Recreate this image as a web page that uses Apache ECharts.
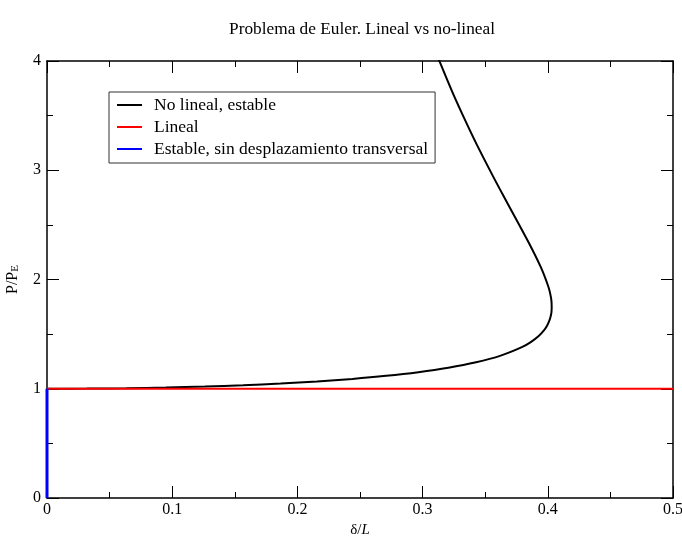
<!DOCTYPE html>
<html>
<head>
<meta charset="utf-8">
<title>Problema de Euler</title>
<script src="https://cdn.jsdelivr.net/npm/echarts@6/dist/echarts.min.js"></script>
<style>
  html, body { margin: 0; padding: 0; background: #fff; }
  #chart { width: 682px; height: 543px; }
</style>
</head>
<body>
<div id="chart"></div>
<script>
// curva no lineal (elastica): [delta/L, P/PE]
const noLineal = [
  [0, 1], [0.0318, 1.0013], [0.0635, 1.0050], [0.0950, 1.0114], [0.1260, 1.0206],
  [0.1566, 1.0327], [0.1866, 1.0480], [0.2157, 1.0670], [0.2439, 1.0901],
  [0.2709, 1.1180], [0.2966, 1.1518], [0.3206, 1.1925], [0.3427, 1.2424],
  [0.3624, 1.3036], [0.3793, 1.3807], [0.3864, 1.4271], [0.3925, 1.4801],
  [0.3974, 1.5416], [0.3994, 1.5760], [0.4009, 1.6135], [0.4021, 1.6545],
  [0.4029, 1.6995], [0.4031, 1.7491], [0.4029, 1.8042], [0.4020, 1.8660],
  [0.4004, 1.9358], [0.3946, 2.1079], [0.3843, 2.3475], [0.3668, 2.7188],
  [0.3565, 2.9396], [0.3430, 3.2413], [0.3346, 3.4423], [0.3244, 3.6989],
  [0.3118, 4.0457]
]
const lineal = [[0, 1], [0.5, 1]]
const estable = [[0, 0], [0, 1]]

const seriesNames = ['No lineal, estable', 'Lineal', 'Estable, sin desplazamiento transversal']
const xTicks = { min: 0, max: 0.5, interval: 0.1 }
const yTicks = { min: 0, max: 4, interval: 1 }

const serif = 'Liberation Serif, Times New Roman, serif'

function frameAxis(ticks, position, withLabels) {
  return {
    type: 'value',
    position: position,
    min: ticks.min,
    max: ticks.max,
    interval: ticks.interval,
    axisLine: { show: true, onZero: false, lineStyle: { color: '#000', width: 1.5 } },
    axisTick: { show: true, inside: true, length: 12, lineStyle: { color: '#000', width: 1 } },
    minorTick: { show: true, splitNumber: 2, length: 6, lineStyle: { color: '#000', width: 1 } },
    splitLine: { show: false },
    minorSplitLine: { show: false },
    axisLabel: withLabels
      ? { show: true, color: '#000', fontSize: 16, fontFamily: serif, margin: (position === 'left' ? 6 : 4) }
      : { show: false }
  }
}

const chart = echarts.init(document.getElementById('chart'))

const xBottom = frameAxis(xTicks, 'bottom', true)
xBottom.name = '{d|δ}/{i|L}'
xBottom.nameLocation = 'middle'
xBottom.nameGap = 24
xBottom.nameTextStyle = {
  color: '#000', fontSize: 15, fontFamily: serif,
  rich: { d: { fontSize: 15, fontFamily: serif }, i: { fontSize: 15, fontFamily: serif, fontStyle: 'italic' } }
}

const yLeft = frameAxis(yTicks, 'left', true)
yLeft.name = 'P/P{s|E}'
yLeft.nameLocation = 'middle'
yLeft.nameGap = 26
yLeft.nameRotate = 90
yLeft.nameTextStyle = {
  color: '#000', fontSize: 16, fontFamily: serif,
  rich: { s: { fontSize: 11, fontFamily: serif, verticalAlign: 'bottom', padding: [6, 0, 0, 0] } }
}

chart.setOption({
  animation: false,
  backgroundColor: '#fff',
  title: {
    text: 'Problema de Euler. Lineal vs no-lineal',
    left: 357,
    textAlign: 'center',
    top: 16,
    textStyle: { color: '#000', fontSize: 17.3, fontWeight: 'normal', fontFamily: serif }
  },
  legend: {
    data: seriesNames.map(n => ({ name: n, icon: 'rect' })),
    orient: 'vertical',
    left: 109,
    top: 92,
    padding: [4, 7, 5, 8],
    itemWidth: 25,
    itemHeight: 2,
    itemGap: 4,
    borderColor: '#333',
    borderWidth: 1,
    selectedMode: false,
    textStyle: { color: '#000', fontSize: 17.5, lineHeight: 17, fontFamily: serif, padding: [0, 0, 0, 7] }
  },
  grid: { left: 47, right: 9, top: 61, bottom: 45, containLabel: false, outerBoundsMode: 'none' },
  xAxis: [xBottom, frameAxis(xTicks, 'top', false)],
  yAxis: [yLeft, frameAxis(yTicks, 'right', false)],
  series: [
    {
      name: seriesNames[0], type: 'line', data: noLineal,
      symbol: 'none', smooth: 0.3,
      lineStyle: { color: '#000', width: 2 }, itemStyle: { color: '#000' }
    },
    {
      name: seriesNames[1], type: 'line', data: lineal,
      symbol: 'none',
      lineStyle: { color: '#ff0000', width: 2 }, itemStyle: { color: '#ff0000' }
    },
    {
      name: seriesNames[2], type: 'line', data: estable,
      symbol: 'none', clip: false,
      lineStyle: { color: '#0000ff', width: 3 }, itemStyle: { color: '#0000ff' }
    }
  ]
})
</script>
</body>
</html>
